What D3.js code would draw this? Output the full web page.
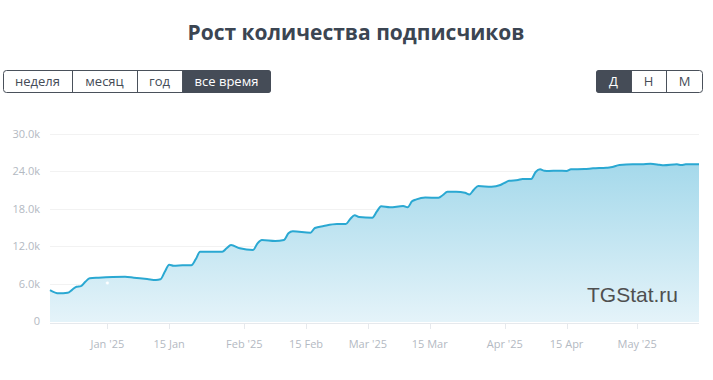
<!DOCTYPE html>
<html><head><meta charset="utf-8">
<script src="https://cdn.jsdelivr.net/npm/d3@7"></script>
<style>
html,body{margin:0;padding:0;background:#fff;}
svg{display:block;}
</style></head>
<body>
<svg id="c" width="713" height="380"></svg>
<script>
const title = "Рост количества подписчиков";
const periodButtons = ["неделя","месяц","год","все время"];
const activePeriod = "все время";
const scaleButtons = ["Д","Н","М"];
const activeScale = "Д";
const yTicks = [0,6000,12000,18000,24000,30000];
const xTickDates = ["2025-01-01","2025-01-15","2025-02-01","2025-02-15","2025-03-01","2025-03-15","2025-04-01","2025-04-15","2025-05-01"];
const xTickLabels = ["Jan '25","15 Jan","Feb '25","15 Feb","Mar '25","15 Mar","Apr '25","15 Apr","May '25"];
const dates = ["2024-12-19","2024-12-21","2024-12-23","2024-12-24","2024-12-25","2024-12-26","2024-12-27","2024-12-28","2024-12-30",
"2025-01-05","2025-01-07","2025-01-10","2025-01-12","2025-01-13","2025-01-14","2025-01-15","2025-01-16","2025-01-18","2025-01-20",
"2025-01-21","2025-01-22","2025-01-27","2025-01-28","2025-01-29","2025-01-31","2025-02-03","2025-02-04","2025-02-05","2025-02-08",
"2025-02-10","2025-02-11","2025-02-12","2025-02-16","2025-02-17","2025-02-19","2025-02-22","2025-02-24","2025-02-25","2025-02-26",
"2025-02-27","2025-03-02","2025-03-03","2025-03-04","2025-03-06","2025-03-09","2025-03-10","2025-03-11","2025-03-12","2025-03-14",
"2025-03-17","2025-03-18","2025-03-19","2025-03-21","2025-03-23","2025-03-24","2025-03-25","2025-03-26","2025-03-29","2025-03-31",
"2025-04-01","2025-04-02","2025-04-04","2025-04-05","2025-04-07","2025-04-08","2025-04-09","2025-04-10","2025-04-11","2025-04-13",
"2025-04-15","2025-04-16","2025-04-19","2025-04-21","2025-04-24","2025-04-25","2025-04-27","2025-04-30","2025-05-02","2025-05-04",
"2025-05-06","2025-05-07","2025-05-10","2025-05-11","2025-05-12","2025-05-15"];
const subscribers = [4970,4440,4540,5000,5500,5600,6300,6850,6950,
7100,6950,6740,6580,6690,7900,9030,8870,8930,8950,
9900,11100,11100,11660,12190,11660,11390,12460,12990,12830,
12990,14060,14380,14160,14920,15240,15560,15560,16360,16950,
16680,16570,17530,18400,18240,18450,18240,19200,19520,19800,
19780,20210,20740,20740,20580,20300,21070,21650,21540,21810,
22180,22500,22610,22780,22800,23900,24330,24110,24060,24110,
24060,24330,24380,24490,24590,24650,25020,25130,25130,25230,
25070,24970,25130,25020,25130,25130];
const markerDates = ["2025-01-01"];
const markerValues = [6100];
const watermark = "TGStat.ru";

(function(){
const parse = d3.utcParse("%Y-%m-%d");
const data = dates.map((d,i)=>({date:parse(d), v:subscribers[i]}));

const svg = d3.select("#c");
const font = "'Open Sans', 'Noto Sans', sans-serif";

svg.append("text").attr("x",356).attr("y",40).attr("text-anchor","middle")
  .attr("font-family",font).attr("font-weight",700).attr("font-size",21)
  .attr("fill","#3b4552").text(title);

function buttons(labels, active, x0, widths, y0, h){
  const g = svg.append("g");
  let x = x0;
  const total = d3.sum(widths);
  g.append("rect").attr("x",x0+0.5).attr("y",y0+0.5).attr("width",total-1).attr("height",h-1)
    .attr("rx",3).attr("fill","#fff").attr("stroke","#4a515b");
  labels.forEach((l,i)=>{
    const w = widths[i];
    if(l===active){
      const first = i===0, last = i===labels.length-1;
      const r=3, x1=x, x2=x+w, y1=y0, y2=y0+h;
      const rl = first?r:0, rr = last?r:0;
      g.append("path").attr("d", `M${x1+rl},${y1}H${x2-rr}Q${x2},${y1} ${x2},${y1+rr}V${y2-rr}Q${x2},${y2} ${x2-rr},${y2}H${x1+rl}Q${x1},${y2} ${x1},${y2-rl}V${y1+rl}Q${x1},${y1} ${x1+rl},${y1}Z`)
        .attr("fill","#454c57");
    }
    if(i>0){
      g.append("line").attr("x1",x+0.5).attr("x2",x+0.5).attr("y1",y0).attr("y2",y0+h).attr("stroke","#4a515b");
    }
    g.append("text").attr("x",x+w/2).attr("y",y0+h/2+4.5).attr("text-anchor","middle")
      .attr("font-family",font).attr("font-size",13)
      .attr("fill", l===active?"#ffffff":"#454c57").text(l);
    x += w;
  });
}
buttons(periodButtons, activePeriod, 3, [69,65,45,89], 70, 23);
buttons(scaleButtons, activeScale, 596, [35,35,37], 70, 23);

const pl = 50, pr = 699, pt = 134, pb = 321;
const x = d3.scaleUtc().domain([parse("2024-12-19"), parse("2025-05-15")]).range([pl,pr]);
const y = d3.scaleLinear().domain([0,30000]).range([pb, pt]);

svg.append("g").selectAll("line").data(yTicks.filter(t=>t>0)).join("line")
  .attr("x1",pl).attr("x2",pr).attr("y1",d=>Math.round(y(d))+0.5).attr("y2",d=>Math.round(y(d))+0.5)
  .attr("stroke","#f2f2f2").attr("stroke-width",1);

const fmt = d => d===0 ? "0" : (d/1000).toFixed(1)+"k";
svg.append("g").selectAll("text").data(yTicks).join("text")
  .attr("x",40).attr("y",d=>y(d)+4).attr("text-anchor","end")
  .attr("font-family",font).attr("font-size",11).attr("fill","#b3b9c2").text(fmt);

const defs = svg.append("defs");
const grad = defs.append("linearGradient").attr("id","ag").attr("gradientUnits","userSpaceOnUse")
  .attr("x1",0).attr("x2",0).attr("y1",y(25200)).attr("y2",pb);
grad.append("stop").attr("offset",0).attr("stop-color","#a5d9eb");
grad.append("stop").attr("offset",1).attr("stop-color","#e4f3f9");

const area = d3.area().x(d=>x(d.date)).y0(pb+1).y1(d=>y(d.v)).curve(d3.curveMonotoneX);
const line = d3.line().x(d=>x(d.date)).y(d=>y(d.v)).curve(d3.curveMonotoneX);
svg.append("path").datum(data).attr("d",area).attr("fill","url(#ag)");
svg.append("path").datum(data).attr("d",line).attr("fill","none").attr("stroke","#2aa8d2").attr("stroke-width",2).attr("stroke-linejoin","round");

svg.append("g").selectAll("circle").data(markerDates.map((d,i)=>({date:parse(d),v:markerValues[i]}))).join("circle")
  .attr("cx",d=>x(d.date)).attr("cy",d=>y(d.v)).attr("r",1.8).attr("fill","#ffffff").attr("stroke","#d7eef6").attr("stroke-width",0.6);

svg.append("line").attr("x1",pl).attr("x2",pr).attr("y1",pb+2.5).attr("y2",pb+2.5).attr("stroke","#e6e9ed");
const xt = xTickDates.map((d,i)=>({date:parse(d), label:xTickLabels[i]}));
svg.append("g").selectAll("line").data(xt).join("line")
  .attr("x1",d=>Math.round(x(d.date))+0.5).attr("x2",d=>Math.round(x(d.date))+0.5)
  .attr("y1",pb+2).attr("y2",pb+8).attr("stroke","#e6e9ed");
svg.append("g").selectAll("text").data(xt).join("text")
  .attr("x",d=>x(d.date)).attr("y",348).attr("text-anchor","middle")
  .attr("font-family",font).attr("font-size",11).attr("fill","#b3b9c2").text(d=>d.label);

svg.append("text").attr("x",587).attr("y",302).attr("font-family","'Liberation Sans', Arial, sans-serif")
  .attr("font-size",21).attr("fill","#4f4f4f").text(watermark);
})();
</script>
</body></html>
